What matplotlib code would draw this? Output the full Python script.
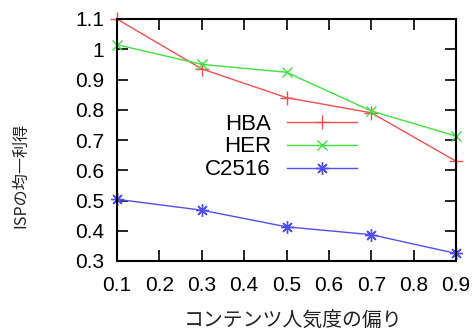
import matplotlib
matplotlib.use('Agg')
import matplotlib.pyplot as plt

x = [0.1, 0.3, 0.5, 0.7, 0.9]
hba = [1.10, 0.935, 0.84, 0.79, 0.63]
her = [1.015, 0.95, 0.924, 0.796, 0.713]
c2516 = [0.504, 0.468, 0.413, 0.387, 0.325]
xticks = [0.1, 0.2, 0.3, 0.4, 0.5, 0.6, 0.7, 0.8, 0.9]
yticks = [0.3, 0.4, 0.5, 0.6, 0.7, 0.8, 0.9, 1.0, 1.1]
ytick_labels = ['0.3', '0.4', '0.5', '0.6', '0.7', '0.8', '0.9', '1', '1.1']

plt.rcParams['font.family'] = ['Liberation Sans', 'DejaVu Sans']

fig = plt.figure(figsize=(4.76, 3.31), dpi=100)
ax = fig.add_axes([117/476, 70/331, 339/476, 242/331])

ax.plot(x, hba, color='#f05050', lw=1, marker='+', ms=10, mew=1, label='HBA', clip_on=False)
ax.plot(x, her, color='#40e040', lw=1, marker='x', ms=7, mew=1, label='HER', clip_on=False)
ax.plot(x, c2516, color='#5050f0', lw=1, marker=(8, 2, 0), ms=9, mew=1, label='C2516', clip_on=False)

ax.set_xlim(0.1, 0.9)
ax.set_ylim(0.3, 1.1)
ax.set_xticks(xticks)
ax.set_xticklabels([str(t) for t in xticks])
ax.set_yticks(yticks)
ax.set_yticklabels(ytick_labels)
ax.tick_params(direction='in', length=8, width=1.2, top=True, right=True, labelsize=15)
ax.tick_params(axis='x', pad=11)
ax.tick_params(axis='y', pad=9)
for s in ax.spines.values():
    s.set_linewidth(1.5)

# legend: text on the left of the sample (rows are right aligned then)
leg = ax.legend(loc='center right', bbox_to_anchor=((357-117)/339, (261-147)/242),
                frameon=False, markerfirst=False, numpoints=1, handlelength=3.15,
                fontsize=16, labelspacing=0.08, handletextpad=0.72, borderpad=0,
                borderaxespad=0)

fig.text(21/476, 1 - 175/331, 'ISPの均一利得', rotation=90, ha='center', va='center',
         fontsize=11.6, family=['Noto Sans CJK JP', 'DejaVu Sans'], color='#222222')
fig.text(293/476, 1 - 321/331, 'コンテンツ人気度の偏り', ha='center', va='center',
         fontsize=14.3, family=['Noto Sans CJK JP', 'DejaVu Sans'], color='#222222')

fig.savefig('out.png', dpi=100)
